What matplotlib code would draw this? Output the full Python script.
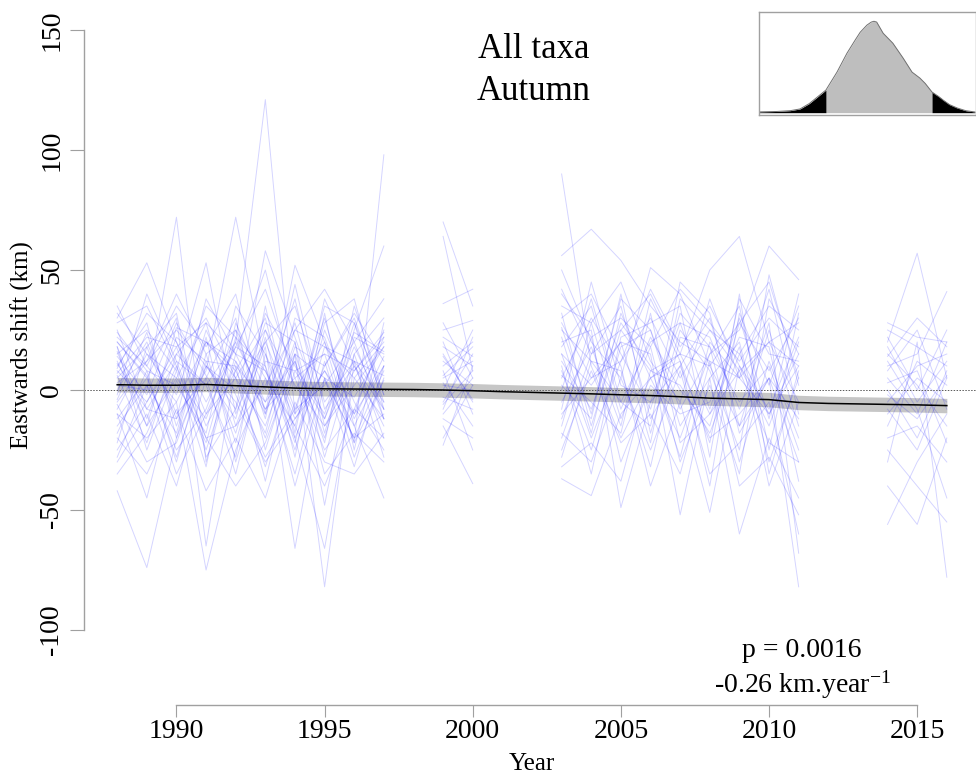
import numpy as np
import matplotlib
matplotlib.use("Agg")
import matplotlib.pyplot as plt

plt.rcParams['font.family'] = 'Liberation Serif'
plt.rcParams['mathtext.fontset'] = 'custom'
plt.rcParams['mathtext.rm'] = 'Liberation Serif'
plt.rcParams['mathtext.it'] = 'Liberation Serif:italic'

# yearly eastward shifts (km), one row per species, one block per survey period
years_a = [1988, 1989, 1990, 1991, 1992, 1993, 1994, 1995, 1996, 1997]
shift_a = [
    [35, 10, -5, 20, 12, -8, 15, 5, -3, 18],
    [30, 53, 20, -10, 5, 25, 2, -15, 8, 22],
    [-42, -74, -20, 10, -5, -30, -12, 4, -20, -10],
    [2, 0, 72, -30, 15, 8, -20, 10, 30, -5],
    [15, 25, 8, 53, -10, 20, 35, -5, 12, 6],
    [-10, -20, -5, -75, -25, 5, -15, -40, -8, -20],
    [20, 5, 30, -65, 10, -5, 12, -20, 22, 15],
    [5, 18, -12, 8, 72, 10, -25, 18, 5, -12],
    [8, -5, 15, 2, 20, 121, -10, 8, -15, 10],
    [-5, 12, 25, 10, -8, 58, 22, -12, 18, -8],
    [12, -15, 5, 28, 15, 50, 0, 20, -10, 25],
    [-18, 8, -30, 15, 25, -12, 44, -8, 10, -15],
    [25, -8, 12, -20, -15, 18, -66, 5, -20, 8],
    [0, 20, -10, 5, 30, -25, 15, -82, 12, -5],
    [-25, -5, 18, -15, 8, 30, -20, -66, 5, 20],
    [10, 28, -20, 22, -30, 12, 8, 15, -22, 98],
    [-8, 15, 5, -12, 20, -5, 28, -18, 25, 60],
    [18, -12, 22, 12, -18, 25, -8, 30, -15, -45],
    [28, 35, 10, -25, 12, -20, 18, 10, 32, 12],
    [-30, -10, -40, 5, -35, 15, -22, 25, -5, -25],
    [6, -22, 15, 30, 5, -15, 20, -28, 15, 30],
    [-12, 5, -25, -8, 25, 5, -35, 12, -28, 5],
    [22, 10, 35, 18, 40, -10, 25, 42, 20, 38],
    [-20, -35, -8, -42, -20, -45, -5, -30, -35, -18],
    [14, -2, 28, 6, -12, 32, 10, -10, 28, -2],
    [-4, 24, -15, 20, 8, -18, 30, 22, -12, 14],
    [32, 15, -2, 35, 22, 8, -15, 28, 38, -8],
    [-35, -18, 10, -20, -40, -22, 12, -35, -18, -30],
    [9, 32, 20, -5, 18, 42, 5, 15, 8, 24],
    [-15, 2, -18, 25, -2, -28, -8, 2, 20, -12],
    [18, -25, 8, -32, 28, 0, 38, -15, 2, 18],
    [3, 12, 40, 15, -22, 22, -28, 32, -25, 28],
    [-6, -30, -22, 12, 10, -38, 15, -22, 35, -2],
    [24, 8, 2, -18, 35, 15, -12, 8, -10, 10],
    [-22, 18, 32, -28, -8, 28, 20, -48, 15, -20],
    [11, -8, -12, 38, 15, -10, 52, 20, -22, 4],
    [-2, 40, 12, 2, -28, 35, -18, 38, 10, -8],
    [16, -15, 26, 20, 5, -32, 8, -12, 24, 16],
    [-28, 2, -35, -10, 18, 10, -40, 5, -32, 10],
    [7, 22, 18, 28, -15, 2, 25, 18, 12, -28],
    [-10, -45, 4, -22, 22, -8, 5, -25, -8, 22],
    [20, 6, -28, 10, 0, 20, -10, 35, 28, -12],
]

years_b = [1999, 2000]
shift_b = [
    [70, 35], [64, 8], [36, 42], [25, 29], [15, -5], [10, 20], [5, 12],
    [0, 25], [-5, 15], [20, -10], [8, -25], [-10, 5], [-23, 10], [12, 2],
    [3, -15], [-15, -39], [18, 10], [-8, 22], [2, 0], [-3, -8], [28, 5],
    [6, 18], [-12, -20], [14, -4], [-20, 2], [22, 14], [-6, 8],
]

years_c = [2003, 2004, 2005, 2006, 2007, 2008, 2009, 2010, 2011]
shift_c = [
    [90, 10, -20, 5, 15, -10, 8, 20, -5],
    [56, 67, 54, 35, 20, 12, 5, -10, 15],
    [50, 20, 5, 51, 40, 10, -15, 5, -30],
    [32, -15, 25, 8, 15, 50, 64, 20, 10],
    [-37, -44, -10, 5, -20, 15, 25, 60, 46],
    [20, 25, -49, -5, 10, -20, -10, 5, -82],
    [5, 30, 10, -40, -5, -51, 10, -15, 20],
    [-10, 5, 20, 15, -52, 5, -60, -20, -45],
    [15, -20, 12, 30, 5, 25, 15, 35, 25],
    [25, 12, -5, 20, 28, -8, 30, -12, 40],
    [-20, 15, 35, -12, 10, 30, -15, 25, -15],
    [8, -25, 18, 25, -15, 5, 20, -30, 5],
    [30, 40, 15, -8, 32, 18, -5, 10, -25],
    [-5, 18, -15, 38, 12, -22, 38, 15, 12],
    [12, -8, 28, 10, -28, 20, 5, 42, -10],
    [-18, -30, 5, -25, 8, -35, -22, -5, -60],
    [40, 22, 30, 18, 42, 28, 12, 30, 18],
    [-25, 8, -22, -10, -35, 12, -40, -28, -52],
    [18, 35, -8, 22, 0, -15, 28, 8, 30],
    [2, -12, 40, -18, 25, 8, -25, 48, 2],
    [28, 5, 12, 42, 18, 35, 10, -8, 22],
    [-12, 22, -30, 2, -10, -5, 22, 18, -38],
    [10, -35, 22, 28, 35, -28, 40, -35, 8],
    [-28, 12, 8, -32, 22, 18, -30, 12, -20],
    [35, 28, 45, 12, -5, 38, 5, 20, 28],
    [6, -5, -18, 32, -22, -10, 18, -40, -5],
    [-8, 45, 2, -5, 28, 22, -8, 28, -68],
    [22, -18, 32, 5, 12, -40, 32, 2, 35],
    [-15, 28, -12, 18, -30, 2, -35, 38, 15],
    [15, 2, 20, -22, 38, 25, 8, -22, -30],
    [-32, -22, -38, 8, 2, -18, 15, -10, 10],
    [42, 15, 25, 40, 15, 10, 28, 45, 5],
    [0, 38, -5, -15, 45, 32, -18, 5, -12],
    [26, -10, 38, 25, -8, 15, 35, -25, 32],
]

years_d = [2014, 2015, 2016]
shift_d = [
    [28, 22, 20], [20, 57, 5], [10, 15, 41], [5, -10, 20], [-5, 10, 15],
    [15, 2, -15], [0, -20, 8], [-10, 5, -5], [25, 18, 10], [-20, -15, -30],
    [12, -8, -45], [-56, -30, -10], [-40, -56, -20], [-30, 20, -78],
    [8, 25, -8], [18, -5, 12], [-15, 12, 2], [3, 8, -22], [-8, -25, 5],
    [22, 0, 25], [-25, -40, -55], [14, 30, 18], [-2, -12, 6],
]

# fitted mean trend and its confidence half-width
trend_years = list(range(1988, 2017))
trend_mean = [2.2, 2.0, 2.0, 2.3, 1.8, 1.3, 0.8, 0.5, 0.4, 0.3,
              0.2, 0.0, -0.3, -0.7, -1.0, -1.3, -1.6, -2.0, -2.3, -2.8,
              -3.4, -3.7, -4.0, -5.2, -5.6, -5.8, -6.0, -6.2, -6.5]
trend_ci = 3.0

# bootstrap distribution of the slope (km/year)
slope_grid = [-0.686, -0.620, -0.570, -0.534, -0.500, -0.470, -0.438, -0.397,
              -0.360, -0.330, -0.311, -0.286, -0.270, -0.260, -0.250, -0.226,
              -0.190, -0.152, -0.119, -0.090, -0.070, -0.045, -0.020, -0.004,
              0.020, 0.048, 0.080, 0.114]
slope_dens = [0.008, 0.012, 0.020, 0.037, 0.090, 0.155, 0.225, 0.403,
              0.591, 0.720, 0.799, 0.870, 0.900, 0.908, 0.900, 0.789,
              0.690, 0.542, 0.403, 0.344, 0.290, 0.205, 0.160, 0.126,
              0.080, 0.047, 0.020, 0.007]
slope_lo, slope_hi = -0.438, -0.045

axis_grey = '#a0a0a0'

fig = plt.figure(figsize=(9.76, 7.78), dpi=100)
ax = fig.add_axes([84 / 976, 124 / 778, 896 / 976, 648 / 778])

for years, block in [(years_a, shift_a), (years_b, shift_b),
                     (years_c, shift_c), (years_d, shift_d)]:
    for row in block:
        ax.plot(years, row, color=(0, 0, 1, 0.17), lw=0.7)

ax.axhline(0, color='0.35', lw=0.7, ls=(0, (1.5, 1.5)))

tm = np.array(trend_mean)
ax.fill_between(trend_years, tm - trend_ci, tm + trend_ci,
                color='#a8a8a8', alpha=0.65, lw=0)
ax.plot(trend_years, trend_mean, color='black', lw=1.1)

ax.set_xlim(1986.88, 2017.12)
ax.set_ylim(-110, 160)
for s in ['top', 'right']:
    ax.spines[s].set_visible(False)
ax.spines['left'].set_bounds(-100, 150)
ax.spines['bottom'].set_bounds(1990, 2015)
ax.spines['bottom'].set_position(('outward', 37))
for s in ['left', 'bottom']:
    ax.spines[s].set_color(axis_grey)
    ax.spines[s].set_linewidth(1.0)

ax.set_xticks([1990, 1995, 2000, 2005, 2010, 2015])
ax.set_yticks([-100, -50, 0, 50, 100, 150])
ax.set_yticklabels(['-100', '-50', '0', '50', '100', '150'],
                   rotation=90, va='center')
ax.tick_params(axis='x', length=8.5, pad=1, color=axis_grey, labelsize=20)
ax.tick_params(axis='y', length=10, pad=4.3, color=axis_grey, labelsize=20)

fig.text(534 / 976, 1 - 58 / 778, 'All taxa', ha='center', va='baseline', size=25)
fig.text(534 / 976, 1 - 100 / 778, 'Autumn', ha='center', va='baseline', size=25)
fig.text(802 / 976, 1 - 657 / 778, 'p = 0.0016', ha='center', va='baseline', size=20)
fig.text(802 / 976, 1 - 693 / 778, r'-0.26 km.year$^{-1}$',
         ha='center', va='baseline', size=20)
fig.text(532 / 976, 1 - 770 / 778, 'Year', ha='center', va='baseline', size=18)
fig.text(22 / 976, 1 - 345 / 778, 'Eastwards shift (km)', rotation=90,
         ha='center', va='center', size=18)

# inset: slope distribution, grey inside the 95% interval, black tails
ins = fig.add_axes([759 / 976, 663 / 778, 217 / 976, 103 / 778])
sg = np.array(slope_grid)
sd = np.array(slope_dens)
mid = (sg >= slope_lo) & (sg <= slope_hi)
left = sg <= slope_lo
right = sg >= slope_hi
ins.fill_between(sg[mid], 0, sd[mid], color='#bebebe', lw=0)
ins.fill_between(sg[left], 0, sd[left], color='black', lw=0)
ins.fill_between(sg[right], 0, sd[right], color='black', lw=0)
ins.plot(sg, sd, color='#707070', lw=0.7)
ins.set_xlim(-0.686, 0.118)
ins.set_ylim(-0.023, 1.0)
ins.set_xticks([])
ins.set_yticks([])
for s in ins.spines.values():
    s.set_color(axis_grey)
    s.set_linewidth(1.0)

fig.savefig('out.png', dpi=100)
